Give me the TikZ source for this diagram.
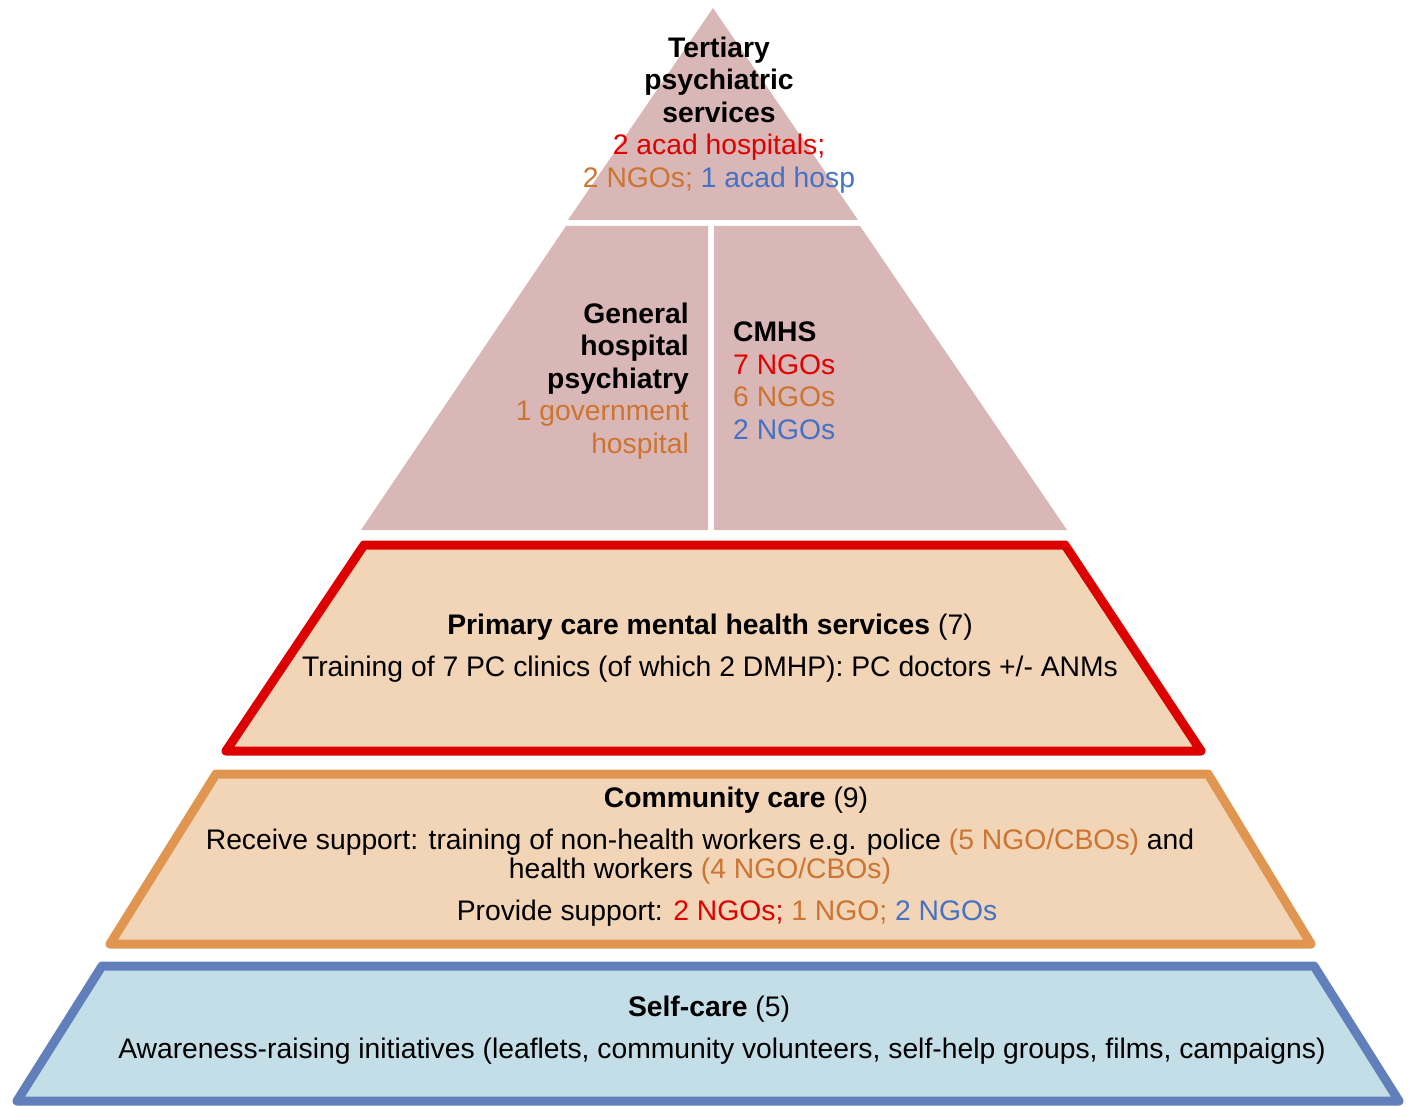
\documentclass[tikz,border=0pt]{standalone}
\usepackage{fontspec}
\setmainfont{Liberation Sans}
\definecolor{tred}{RGB}{224,0,0}
\definecolor{torange}{RGB}{204,117,50}
\definecolor{tblue}{RGB}{68,114,196}
\definecolor{pinkfill}{RGB}{217,183,183}
\definecolor{peachfill}{RGB}{242,212,183}
\definecolor{bluefill}{RGB}{196,222,232}
\definecolor{redline}{RGB}{220,0,0}
\definecolor{orangeline}{RGB}{224,150,80}
\definecolor{blueline}{RGB}{97,128,187}
\tikzset{
  lbl/.style={inner sep=0pt, font=\fontsize{28.3}{32.5}\selectfont},
  layer/.style={line width=9pt, line join=round},
}
\begin{document}
\begin{tikzpicture}[x=1pt,y=-1pt]
\useasboundingbox (0,0) rectangle (1411,1107);
% top triangle
\fill[pinkfill] (713,8) -- (858,220) -- (568,220) -- cycle;
% second tier, two parts
\fill[pinkfill] (566,226) -- (708,226) -- (708,530) -- (361,530) -- cycle;
\fill[pinkfill] (714,226) -- (860,226) -- (1067,530) -- (714,530) -- cycle;
% primary care
\draw[layer, redline, fill=peachfill] (364,545) -- (1065,545) -- (1201,751) -- (226,751) -- cycle;
% community care
\draw[layer, orangeline, fill=peachfill] (216,774) -- (1208,774) -- (1311,944) -- (110,944) -- cycle;
% self-care
\draw[layer, blueline, fill=bluefill] (102,966) -- (1314,966) -- (1399,1101) -- (17,1101) -- cycle;

\node[lbl, align=center] (tert) at (719,115)
  {\textbf{Tertiary}\\\textbf{psychiatric}\\\textbf{services}\\
   \textcolor{tred}{2 acad hospitals;}\\
   \textcolor{torange}{2 NGOs;} \textcolor{tblue}{1 acad hosp}};
\node[lbl, align=right, anchor=east] (gen) at (689,381)
  {\textbf{General}\\\textbf{hospital}\\\textbf{psychiatry}\\
   \textcolor{torange}{1 government}\\\textcolor{torange}{hospital}};
\node[lbl, align=left, anchor=west] (cmhs) at (733,381)
  {\textbf{CMHS}\\\textcolor{tred}{7 NGOs}\\\textcolor{torange}{6 NGOs}\\\textcolor{tblue}{2 NGOs}};

\node[lbl] (pc1) at (710,627) {\textbf{Primary care mental health services} (7)};
\node[lbl] (pc2) at (710,669) {Training of 7 PC clinics (of which 2 DMHP): PC doctors +/- ANMs};

\node[lbl] (cc1) at (736,800) {\textbf{Community care} (9)};
\node[lbl] (cc2) at (700,842) {Receive support: training of non-health workers e.g. police \textcolor{torange}{(5 NGO/CBOs)} and};
\node[lbl] (cc3) at (700,871) {health workers \textcolor{torange}{(4 NGO/CBOs)}};
\node[lbl] (cc4) at (727,913) {Provide support: \textcolor{tred}{2 NGOs;} \textcolor{torange}{1 NGO;} \textcolor{tblue}{2 NGOs}};

\node[lbl] (sc1) at (709,1009) {\textbf{Self-care} (5)};
\node[lbl] (sc2) at (722,1051) {Awareness-raising initiatives (leaflets, community volunteers, self-help groups, films, campaigns)};
\end{tikzpicture}
\end{document}
